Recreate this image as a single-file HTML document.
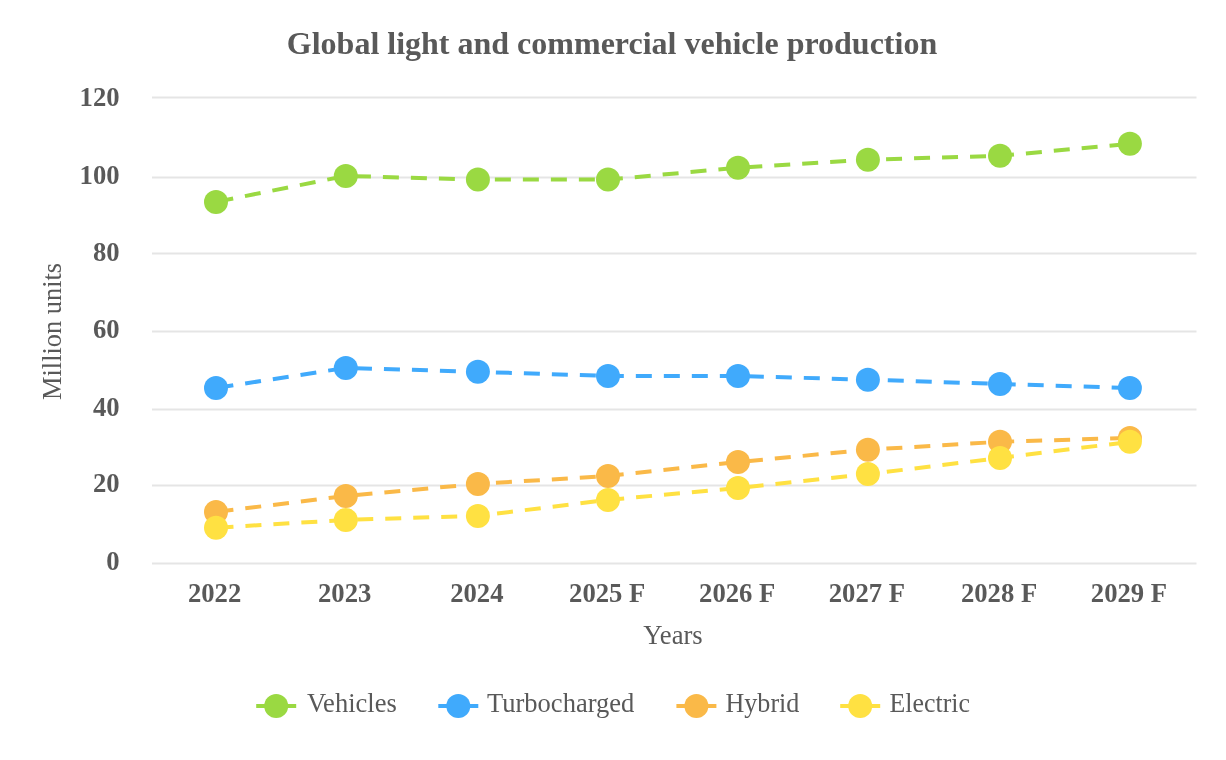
<!DOCTYPE html>
<html><head><meta charset="utf-8"><title>Global light and commercial vehicle production</title>
<style>
html,body{margin:0;padding:0;background:#fff;}
body{width:1226px;height:760px;overflow:hidden;font-family:"Liberation Serif",serif;}
svg{display:block;will-change:transform;}
text{font-family:"Liberation Serif",serif;fill:#595959;}
.b{font-weight:bold;}
</style></head><body>
<svg width="1226" height="760" viewBox="0 0 1226 760">
<rect width="1226" height="760" fill="#ffffff"/>
<line x1="152" y1="97.5" x2="1196.5" y2="97.5" stroke="#e5e5e5" stroke-width="2"/>
<line x1="152" y1="177.5" x2="1196.5" y2="177.5" stroke="#e5e5e5" stroke-width="2"/>
<line x1="152" y1="253.4" x2="1196.5" y2="253.4" stroke="#e5e5e5" stroke-width="2"/>
<line x1="152" y1="331.5" x2="1196.5" y2="331.5" stroke="#e5e5e5" stroke-width="2"/>
<line x1="152" y1="409.5" x2="1196.5" y2="409.5" stroke="#e5e5e5" stroke-width="2"/>
<line x1="152" y1="485.5" x2="1196.5" y2="485.5" stroke="#e5e5e5" stroke-width="2"/>
<line x1="152" y1="563.4" x2="1196.5" y2="563.4" stroke="#e5e5e5" stroke-width="2"/>
<text class="b" x="612" y="53.8" font-size="32" text-anchor="middle">Global light and commercial vehicle production</text>
<text class="b" x="119.6" y="106" font-size="26.67" text-anchor="end">120</text>
<text class="b" x="119.6" y="184.0" font-size="26.67" text-anchor="end">100</text>
<text class="b" x="119.6" y="260.7" font-size="26.67" text-anchor="end">80</text>
<text class="b" x="119.6" y="338.4" font-size="26.67" text-anchor="end">60</text>
<text class="b" x="119.6" y="416.0" font-size="26.67" text-anchor="end">40</text>
<text class="b" x="119.6" y="492.3" font-size="26.67" text-anchor="end">20</text>
<text class="b" x="119.6" y="570.3" font-size="26.67" text-anchor="end">0</text>
<text class="b" x="214.6" y="601.8" font-size="26.67" text-anchor="middle">2022</text>
<text class="b" x="344.7" y="601.8" font-size="26.67" text-anchor="middle">2023</text>
<text class="b" x="476.8" y="601.8" font-size="26.67" text-anchor="middle">2024</text>
<text class="b" x="607.25" y="601.8" font-size="26.67" text-anchor="middle">2025 F</text>
<text class="b" x="737.2" y="601.8" font-size="26.67" text-anchor="middle">2026 F</text>
<text class="b" x="866.9" y="601.8" font-size="26.67" text-anchor="middle">2027 F</text>
<text class="b" x="999.05" y="601.8" font-size="26.67" text-anchor="middle">2028 F</text>
<text class="b" x="1128.95" y="601.8" font-size="26.67" text-anchor="middle">2029 F</text>
<text x="673" y="644.3" font-size="26.67" text-anchor="middle">Years</text>
<text transform="translate(61,331.4) rotate(-90)" font-size="26.67" text-anchor="middle" textLength="137.1" lengthAdjust="spacingAndGlyphs">Million units</text>
<polyline points="216,201.9 345.8,175.9 477.9,179.6 608,179.6 738,167.7 867.9,159.7 1000,155.8 1129.9,143.8" fill="none" stroke="#9ad942" stroke-width="4" stroke-dasharray="16 12" stroke-dashoffset="-1.5" stroke-linejoin="round"/>
<circle cx="216" cy="201.9" r="12" fill="#9ad942"/>
<circle cx="345.8" cy="175.9" r="12" fill="#9ad942"/>
<circle cx="477.9" cy="179.6" r="12" fill="#9ad942"/>
<circle cx="608" cy="179.6" r="12" fill="#9ad942"/>
<circle cx="738" cy="167.7" r="12" fill="#9ad942"/>
<circle cx="867.9" cy="159.7" r="12" fill="#9ad942"/>
<circle cx="1000" cy="155.8" r="12" fill="#9ad942"/>
<circle cx="1129.9" cy="143.8" r="12" fill="#9ad942"/>
<polyline points="216,388 345.8,367.9 477.9,371.8 608,376 738,376 867.9,379.7 1000,384 1129.9,388" fill="none" stroke="#40aafc" stroke-width="4" stroke-dasharray="16 12" stroke-dashoffset="-1.5" stroke-linejoin="round"/>
<circle cx="216" cy="388" r="12" fill="#40aafc"/>
<circle cx="345.8" cy="367.9" r="12" fill="#40aafc"/>
<circle cx="477.9" cy="371.8" r="12" fill="#40aafc"/>
<circle cx="608" cy="376" r="12" fill="#40aafc"/>
<circle cx="738" cy="376" r="12" fill="#40aafc"/>
<circle cx="867.9" cy="379.7" r="12" fill="#40aafc"/>
<circle cx="1000" cy="384" r="12" fill="#40aafc"/>
<circle cx="1129.9" cy="388" r="12" fill="#40aafc"/>
<polyline points="216,511.9 345.8,496 477.9,483.9 608,476 738,462 867.9,449.7 1000,441.8 1129.9,437.9" fill="none" stroke="#fab948" stroke-width="4" stroke-dasharray="16 12" stroke-dashoffset="-1.5" stroke-linejoin="round"/>
<circle cx="216" cy="511.9" r="12" fill="#fab948"/>
<circle cx="345.8" cy="496" r="12" fill="#fab948"/>
<circle cx="477.9" cy="483.9" r="12" fill="#fab948"/>
<circle cx="608" cy="476" r="12" fill="#fab948"/>
<circle cx="738" cy="462" r="12" fill="#fab948"/>
<circle cx="867.9" cy="449.7" r="12" fill="#fab948"/>
<circle cx="1000" cy="441.8" r="12" fill="#fab948"/>
<circle cx="1129.9" cy="437.9" r="12" fill="#fab948"/>
<polyline points="216,527.8 345.8,519.9 477.9,515.9 608,499.9 738,488 867.9,474.1 1000,458 1129.9,441.8" fill="none" stroke="#ffe142" stroke-width="4" stroke-dasharray="16 12" stroke-dashoffset="-1.5" stroke-linejoin="round"/>
<circle cx="216" cy="527.8" r="12" fill="#ffe142"/>
<circle cx="345.8" cy="519.9" r="12" fill="#ffe142"/>
<circle cx="477.9" cy="515.9" r="12" fill="#ffe142"/>
<circle cx="608" cy="499.9" r="12" fill="#ffe142"/>
<circle cx="738" cy="488" r="12" fill="#ffe142"/>
<circle cx="867.9" cy="474.1" r="12" fill="#ffe142"/>
<circle cx="1000" cy="458" r="12" fill="#ffe142"/>
<circle cx="1129.9" cy="441.8" r="12" fill="#ffe142"/>
<line x1="256.2" y1="706" x2="296.2" y2="706" stroke="#9ad942" stroke-width="4"/>
<circle cx="276.2" cy="706" r="12" fill="#9ad942"/>
<text x="306.9" y="711.5" font-size="26.67" textLength="89.9" lengthAdjust="spacingAndGlyphs">Vehicles</text>
<line x1="438.3" y1="706" x2="478.3" y2="706" stroke="#40aafc" stroke-width="4"/>
<circle cx="458.3" cy="706" r="12" fill="#40aafc"/>
<text x="487" y="711.5" font-size="26.67" textLength="147.3" lengthAdjust="spacingAndGlyphs">Turbocharged</text>
<line x1="676.4" y1="706" x2="716.4" y2="706" stroke="#fab948" stroke-width="4"/>
<circle cx="696.4" cy="706" r="12" fill="#fab948"/>
<text x="725.5" y="711.5" font-size="26.67" textLength="73.9" lengthAdjust="spacingAndGlyphs">Hybrid</text>
<line x1="840.2" y1="706" x2="880.2" y2="706" stroke="#ffe142" stroke-width="4"/>
<circle cx="860.2" cy="706" r="12" fill="#ffe142"/>
<text x="889.6" y="711.5" font-size="26.67" textLength="80.3" lengthAdjust="spacingAndGlyphs">Electric</text>
</svg>
</body></html>
